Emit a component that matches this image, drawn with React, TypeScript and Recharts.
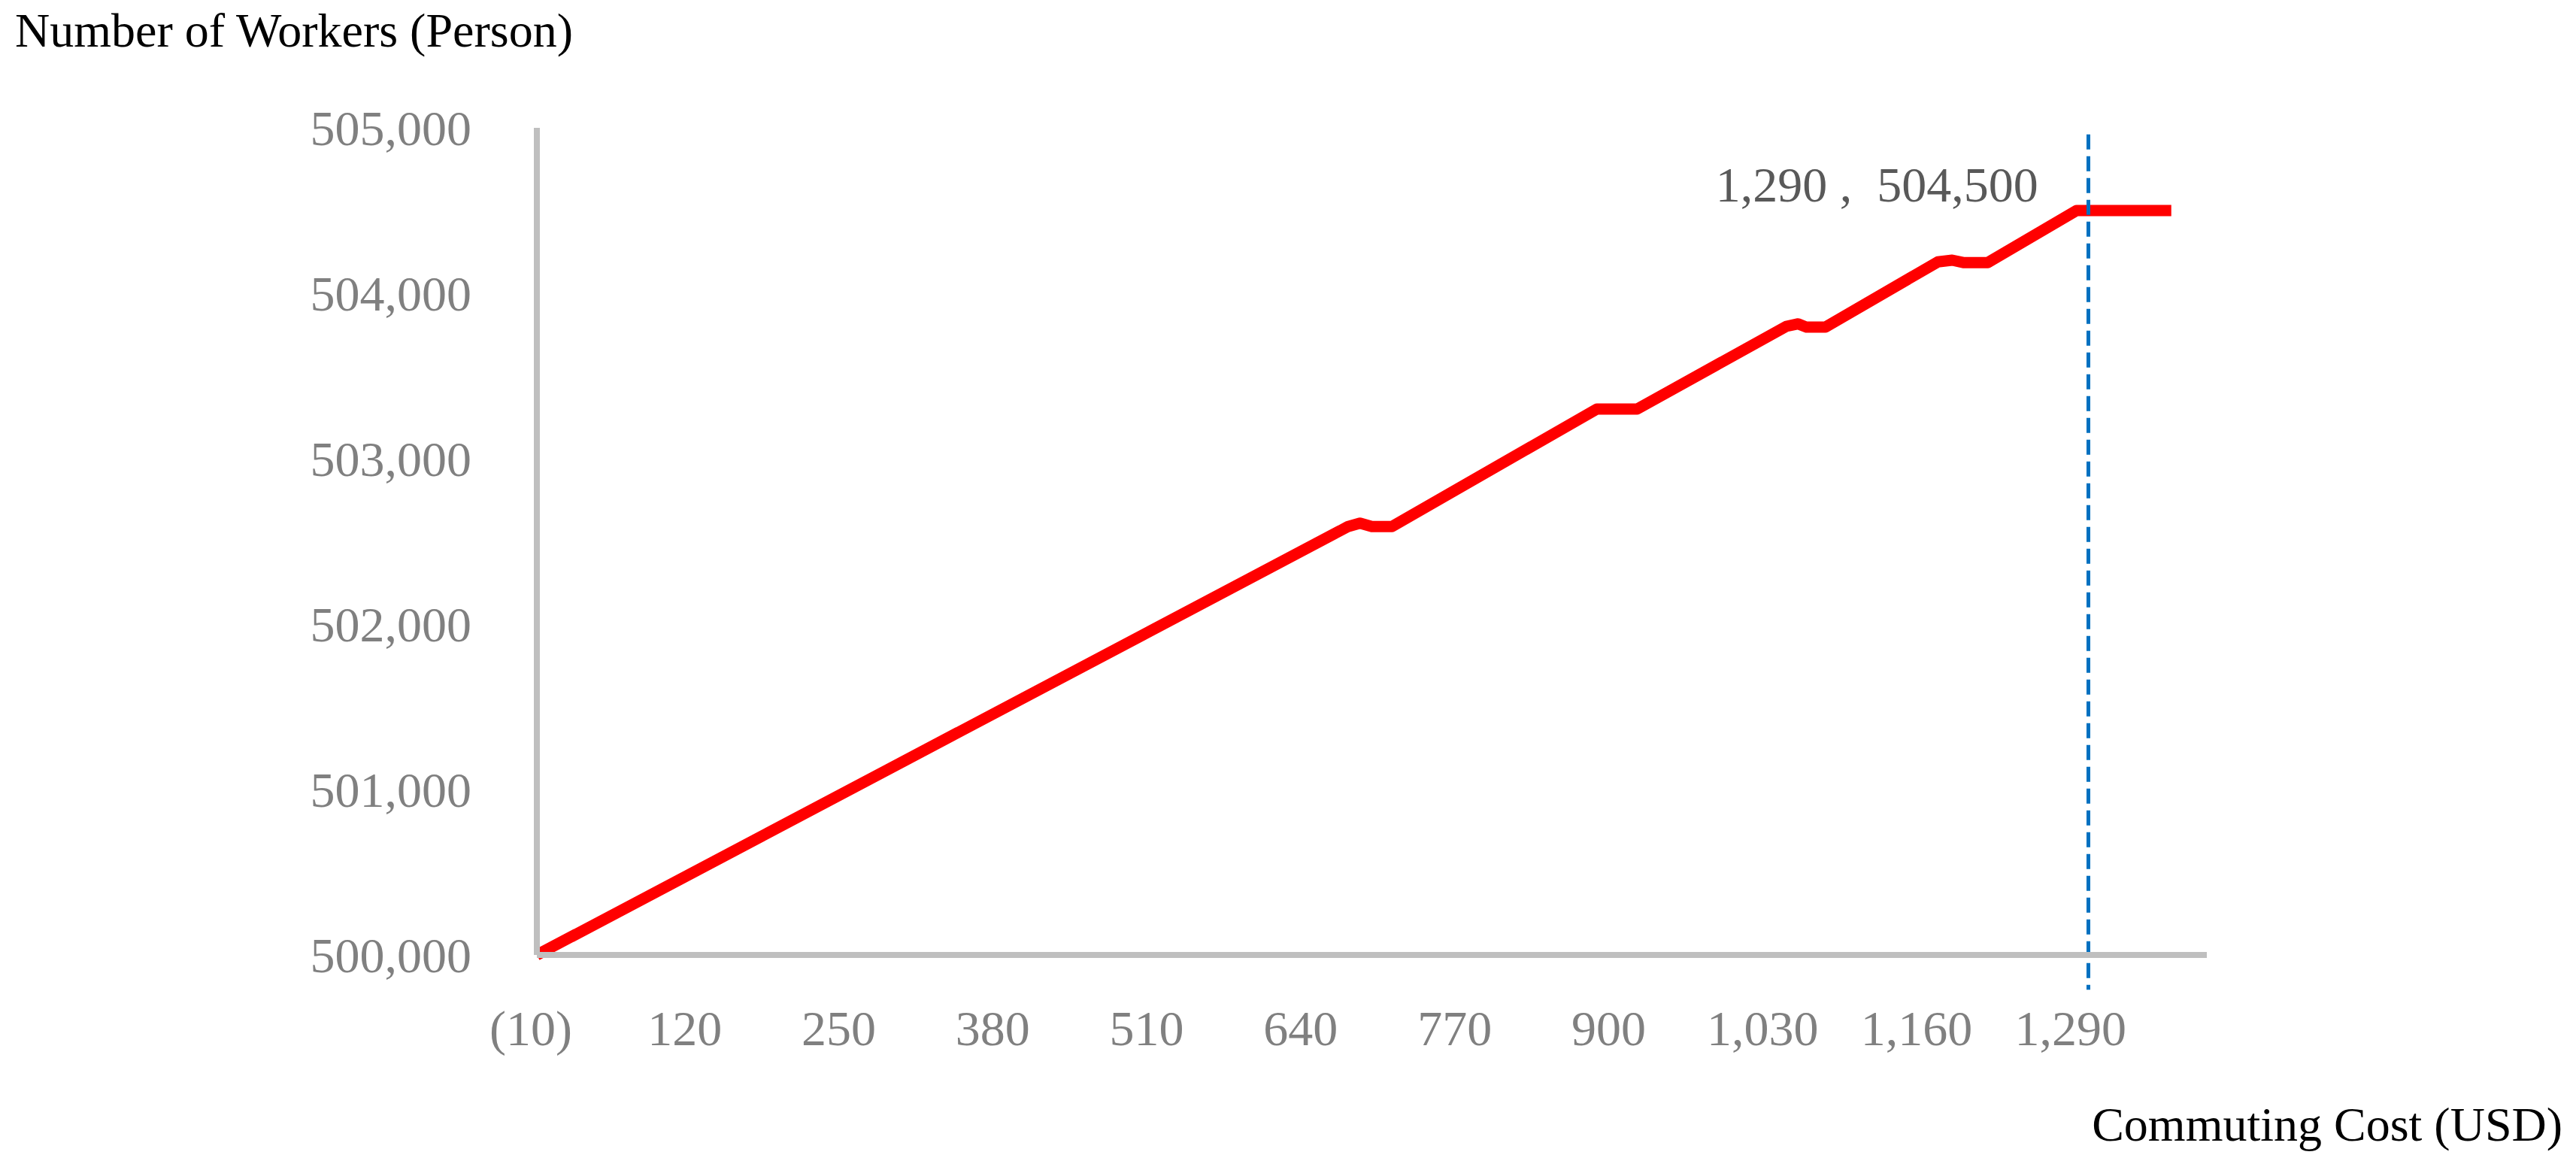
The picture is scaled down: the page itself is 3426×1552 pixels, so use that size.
import { Label, Line, LineChart, ReferenceDot, ReferenceLine, XAxis, YAxis } from 'recharts'

// commuting cost (USD) at each break of the curve
const costs = [-10, 675, 685, 695, 712, 885, 919, 1045, 1055, 1062, 1078, 1173, 1185, 1195, 1215, 1290, 1370]
// number of workers at those costs
const workers = [
  500000, 502590, 502610, 502590, 502590, 503300, 503300, 503800, 503815, 503795, 503795, 504190, 504200, 504185,
  504185, 504500, 504500,
]
const costTicks = [-10, 120, 250, 380, 510, 640, 770, 900, 1030, 1160, 1290]
const workerTicks = [500000, 501000, 502000, 503000, 504000, 505000]
const peakCost = 1290
const peakWorkers = 504500
const cutoffCost = 1300
const cutoffSpan = [504960, 499790]

const data = costs.map((cost, i) => ({ cost, workers: workers[i] }))

const FONT = '"Liberation Serif", "Times New Roman", serif'
const AXIS_GREY = '#BFBFBF'
const TICK_GREY = '#808080'

const fmt = (v: number) => (v < 0 ? `(${Math.abs(v).toLocaleString('en-US')})` : v.toLocaleString('en-US'))

export default function App() {
  return (
    <div style={{ position: 'absolute', left: 0, top: 0, width: 3426, height: 1552, background: '#fff' }}>
      <LineChart width={3426} height={1552} data={data} margin={{ top: 170, right: 491, bottom: 182, left: 0 }}>
        <XAxis
          dataKey="cost"
          type="number"
          domain={[-10, 1400]}
          ticks={costTicks}
          interval={0}
          tickFormatter={fmt}
          axisLine={{ stroke: AXIS_GREY, strokeWidth: 8 }}
          tickLine={false}
          tickSize={0}
          tickMargin={73}
          height={100}
          tick={{ fill: TICK_GREY, fontSize: 66, fontFamily: FONT, dx: -8 }}
        >
          <Label
            content={(props: any) => {
              const vb = props.viewBox
              return (
                <text
                  x={vb.x + vb.width + 473}
                  y={1517}
                  textAnchor="end"
                  fill="#000"
                  fontSize={64}
                  fontFamily={FONT}
                >
                  Commuting Cost (USD)
                </text>
              )
            }}
          />
        </XAxis>
        <YAxis
          type="number"
          domain={[500000, 505000]}
          ticks={workerTicks}
          interval={0}
          tickFormatter={fmt}
          axisLine={{ stroke: AXIS_GREY, strokeWidth: 8 }}
          tickLine={false}
          tickSize={0}
          tickMargin={87}
          width={714}
          tick={{ fill: TICK_GREY, fontSize: 66, fontFamily: FONT }}
        >
          <Label
            content={(props: any) => {
              const vb = props.viewBox
              return (
                <text x={vb.x + 20} y={vb.y - 108} textAnchor="start" fill="#000" fontSize={64} fontFamily={FONT}>
                  Number of Workers (Person)
                </text>
              )
            }}
          />
        </YAxis>
        <Line
          type="linear"
          dataKey="workers"
          stroke="#FF0000"
          strokeWidth={15}
          strokeLinejoin="round"
          dot={false}
          activeDot={false}
          isAnimationActive={false}
        />
        <ReferenceLine
          segment={[
            { x: cutoffCost, y: cutoffSpan[0] },
            { x: cutoffCost, y: cutoffSpan[1] },
          ]}
          stroke="#0070C0"
          strokeWidth={5}
          strokeDasharray="20 9"
          ifOverflow="visible"
        />
        <ReferenceDot
          x={peakCost}
          y={peakWorkers}
          r={1}
          fill="none"
          stroke="none"
          ifOverflow="visible"
          label={(props: any) => {
            const vb = props.viewBox
            return (
              <text x={vb.x - 50} y={vb.y - 11} textAnchor="end" fill="#595959" fontSize={66} fontFamily={FONT}>
                {`${fmt(peakCost)} ,\u00a0 ${fmt(peakWorkers)}`}
              </text>
            )
          }}
        />
      </LineChart>
    </div>
  )
}
